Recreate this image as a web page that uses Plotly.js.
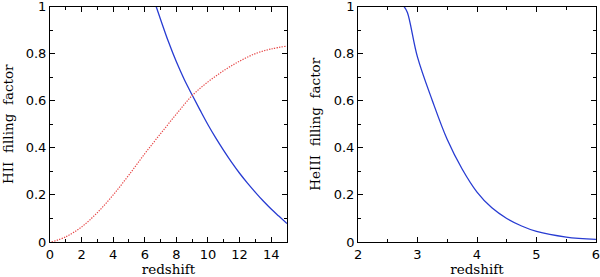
<!DOCTYPE html>
<html>
<head>
<meta charset="utf-8">
<script src="https://cdn.plot.ly/plotly-3.0.1.min.js"></script>
<style>html,body{margin:0;padding:0;background:#fff;}#chart{width:600px;height:277px;}</style>
</head>
<body>
<div id="chart"></div>
<script>
// Left panel: HII filling factor
const hiiBlueZ = [6.72, 7, 7.5, 8, 8.5, 9, 9.5, 10, 10.5, 11, 11.5, 12, 12.5, 13, 13.5, 14, 14.5, 15];
const hiiBlueF = [1.0, 0.945, 0.85, 0.765, 0.69, 0.624, 0.56, 0.498, 0.441, 0.388, 0.338, 0.292, 0.25, 0.211, 0.174, 0.14, 0.109, 0.078];
const hiiRedZ = [0.1, 1, 2, 3, 4, 5, 6, 7, 8, 9, 10, 11, 12, 13, 14, 15];
const hiiRedF = [0.0, 0.022, 0.064, 0.125, 0.2, 0.285, 0.375, 0.46, 0.543, 0.622, 0.68, 0.728, 0.768, 0.8, 0.82, 0.832];
// Right panel: HeIII filling factor
const heZ = [2.775, 2.83, 3, 3.25, 3.5, 3.75, 4, 4.25, 4.5, 4.75, 5, 5.5, 6];
const heF = [1.0, 0.975, 0.785, 0.6, 0.435, 0.31, 0.212, 0.145, 0.1, 0.068, 0.045, 0.021, 0.011];

const yTickVals = [0, 0.2, 0.4, 0.6, 0.8, 1];
const yTickText = ['0', '0.2', '0.4', '0.6', '0.8', '1'];

const blue = 'rgb(40,60,210)';
const red = 'rgb(230,70,70)';

const traces = [
  {x: hiiBlueZ, y: hiiBlueF, mode: 'lines', line: {color: blue, width: 1.3, shape: 'spline'}, xaxis: 'x', yaxis: 'y'},
  {x: hiiRedZ, y: hiiRedF, mode: 'lines', line: {color: red, width: 1.2, dash: '1.3px,1.3px', shape: 'spline'}, xaxis: 'x', yaxis: 'y'},
  {x: heZ, y: heF, mode: 'lines', line: {color: blue, width: 1.3, shape: 'spline'}, xaxis: 'x2', yaxis: 'y2'}
];

const tickFont = {family: 'DejaVu Sans, sans-serif', size: 13, color: '#000'};
const titleFont = {family: 'DejaVu Serif, serif', size: 13.5, color: '#000'};

function ax(extra) {
  return Object.assign({
    showline: true, linecolor: '#000', linewidth: 1, mirror: 'ticks',
    ticks: 'inside', ticklen: 5, tickwidth: 1, tickcolor: '#000',
    showgrid: false, zeroline: false, tickfont: tickFont, automargin: false,
    ticklabeloverflow: 'allow'
  }, extra);
}

const yDomain = [0.1264, 0.9765];

const layout = {
  width: 600, height: 277,
  margin: {l: 0, r: 0, t: 0, b: 0},
  paper_bgcolor: '#fff', plot_bgcolor: '#fff',
  showlegend: false,
  xaxis: ax({domain: [0.0833, 0.4783], range: [0, 15], dtick: 2, tick0: 0,
    minor: {ticks: 'inside', dtick: 1, ticklen: 3, tickcolor: '#000'},
    title: {text: 'redshift', font: titleFont, standoff: 2}, anchor: 'y'}),
  yaxis: ax({domain: yDomain, range: [0, 1.0001],
    tickvals: yTickVals, ticktext: yTickText,
    minor: {ticks: 'inside', dtick: 0.1, ticklen: 3, tickcolor: '#000'},
    title: {text: 'HII  filling  factor', font: titleFont, standoff: 9}, anchor: 'x'}),
  xaxis2: ax({domain: [0.5967, 0.9933], range: [2, 6.0001], dtick: 1, tick0: 2,
    minor: {ticks: 'inside', dtick: 0.5, ticklen: 3, tickcolor: '#000'},
    title: {text: 'redshift', font: titleFont, standoff: 2}, anchor: 'y2'}),
  yaxis2: ax({domain: yDomain, range: [0, 1.0001],
    tickvals: yTickVals, ticktext: yTickText,
    minor: {ticks: 'inside', dtick: 0.1, ticklen: 3, tickcolor: '#000'},
    title: {text: 'HeIII  filling  factor', font: titleFont, standoff: 9}, anchor: 'x2'})
};

Plotly.newPlot('chart', traces, layout, {displayModeBar: false, staticPlot: true});
</script>
</body>
</html>
